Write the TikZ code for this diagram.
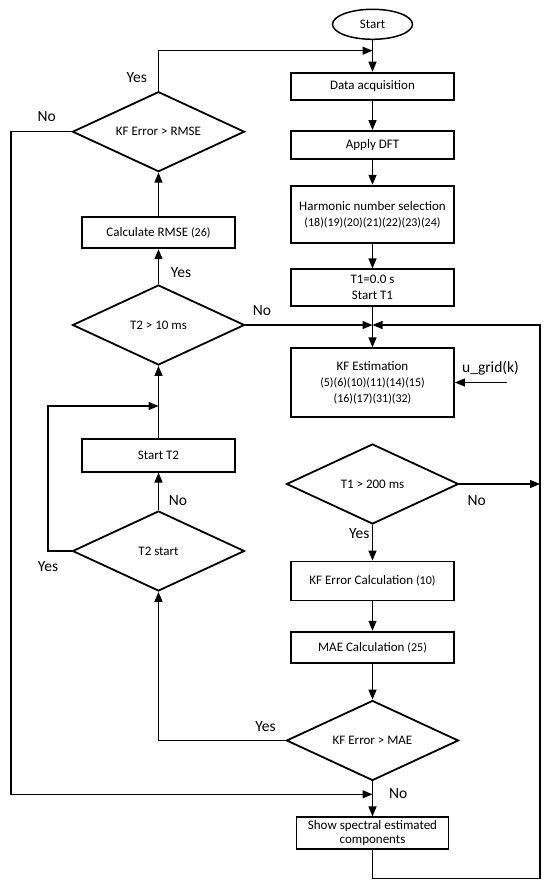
\documentclass[tikz,border=0pt]{standalone}
\usepackage{fontspec}
\setmainfont{Carlito}
\usetikzlibrary{arrows.meta,shapes.geometric}
\begin{document}
\begin{tikzpicture}[x=1pt,y=-1pt,
  box/.style={draw, rectangle, line width=1.8pt, minimum width=163pt, inner sep=0pt, align=center, font=\fontsize{13}{16}\selectfont},
  dec/.style={draw, diamond, aspect=2, line width=1.8pt, minimum width=172pt, minimum height=80pt, inner sep=0pt, font=\fontsize{13}{16}\selectfont},
  term/.style={draw, ellipse, line width=1.5pt, minimum width=80pt, minimum height=30pt, inner sep=0pt, font=\fontsize{13}{16}\selectfont},
  lbl/.style={inner sep=0pt, font=\fontsize{15.5}{18}\selectfont},
  arr/.style={line width=1.3pt, -{Triangle[length=10pt,width=8pt]}},
  num/.style={}]
\useasboundingbox (0,0) rectangle (550,891);
% right column
\node[term] (start) at (372.5,24.3) {Start};
\node[box, minimum height=27.3pt] (data) at (372.5,86.3) {Data acquisition};
\node[box, minimum height=28pt] (dft) at (372.5,145) {Apply DFT};
\node[box, minimum height=57.6pt] (harm) at (372.5,214.5) {Harmonic number selection\\{\fontsize{12}{16}\selectfont (18)(19)(20)(21)(22)(23)(24)}};
\node[box, minimum height=36.7pt] (t1) at (372.5,287.7) {T1=0.0 s\\Start T1};
\node[box, minimum height=68.4pt] (kfe) at (372.5,382.5) {KF Estimation\\{\fontsize{12}{16}\selectfont (5)(6)(10)(11)(14)(15)}\\{\fontsize{12}{16}\selectfont (16)(17)(31)(32)}};
\node[dec] (d1) at (372.5,484) {T1 > 200 ms};
\node[box, minimum height=39pt] (kferr) at (372.5,581) {KF Error Calculation {\fontsize{12}{16}\selectfont (10)}};
\node[box, minimum height=31.7pt] (mae) at (372.5,647.5) {MAE Calculation {\fontsize{12}{16}\selectfont (25)}};
\node[dec] (d2) at (372.5,740.5) {KF Error > MAE};
\node[box, minimum width=152pt, minimum height=32pt, font=\fontsize{13}{14.2}\selectfont] (show) at (372.5,833.3) {Show spectral estimated\\components};
% left column
\node[dec] (d3) at (158.5,131.7) {KF Error > RMSE};
\node[box, minimum width=153pt, minimum height=31.6pt] (rmse) at (158.5,232.5) {Calculate RMSE {\fontsize{12}{16}\selectfont (26)}};
\node[dec] (d4) at (158.5,325) {T2 > 10 ms};
\node[box, minimum width=153pt, minimum height=32.7pt] (st2) at (158.5,455.3) {Start T2};
\node[dec] (d5) at (158.5,551) {T2 start};
% coordinates
\coordinate (j0) at (372.5,50.7);
\coordinate (j1) at (372.5,325);
\coordinate (r1) at (540,878.3);
\coordinate (r2) at (540,325);
\coordinate (r3) at (540,484);
\coordinate (l1) at (48,551);
\coordinate (l2) at (48,406);
\coordinate (l3) at (158.5,406);
\coordinate (m1) at (11,131.7);
\coordinate (m2) at (11,794.3);
\coordinate (m3) at (372.5,794.3);
\coordinate (u) at (507,382.5);
% connectors
\draw[arr] (start) -- (data);
\draw[arr] (d3.north) |- (j0);
\draw[arr] (data) -- (dft);
\draw[arr] (dft) -- (harm);
\draw[arr] (harm) -- (t1);
\draw[arr] (t1) -- (kfe);
\draw[arr] (d4.east) -- (j1);
\draw[arr] (show.south) |- (r1) -- (r2) -- (j1);
\draw[arr] (d1.east) -- (r3);
\draw[arr] (d1) -- (kferr);
\draw[arr] (kferr) -- (mae);
\draw[arr] (mae) -- (d2);
\draw[arr] (d2) -- (show);
\draw[arr] (d2.west) -| (d5.south);
\draw[arr] (d5) -- (st2);
\draw[arr] (st2) -- (d4);
\draw[arr] (d4) -- (rmse);
\draw[arr] (rmse) -- (d3);
\draw[arr] (d5.west) -- (l1) -- (l2) -- (l3);
\draw[arr] (d3.west) -- (m1) -- (m2) -- (m3);
\draw[arr] (u) -- (kfe.east);
% labels
\node[lbl] (ug) at (490.5,368.3) {u\_grid(k)};
\node[lbl] (y1) at (136.7,77.3) {Yes};
\node[lbl] (n1) at (46.7,116.7) {No};
\node[lbl] (y2) at (181,272.7) {Yes};
\node[lbl] (n2) at (262,311) {No};
\node[lbl] (n3) at (178,501) {No};
\node[lbl] (y3) at (48,566.7) {Yes};
\node[lbl] (n4) at (476.7,501) {No};
\node[lbl] (y4) at (359.3,533.3) {Yes};
\node[lbl] (y5) at (265.6,726.7) {Yes};
\node[lbl] (n5) at (398.3,793.3) {No};
\end{tikzpicture}
\end{document}
